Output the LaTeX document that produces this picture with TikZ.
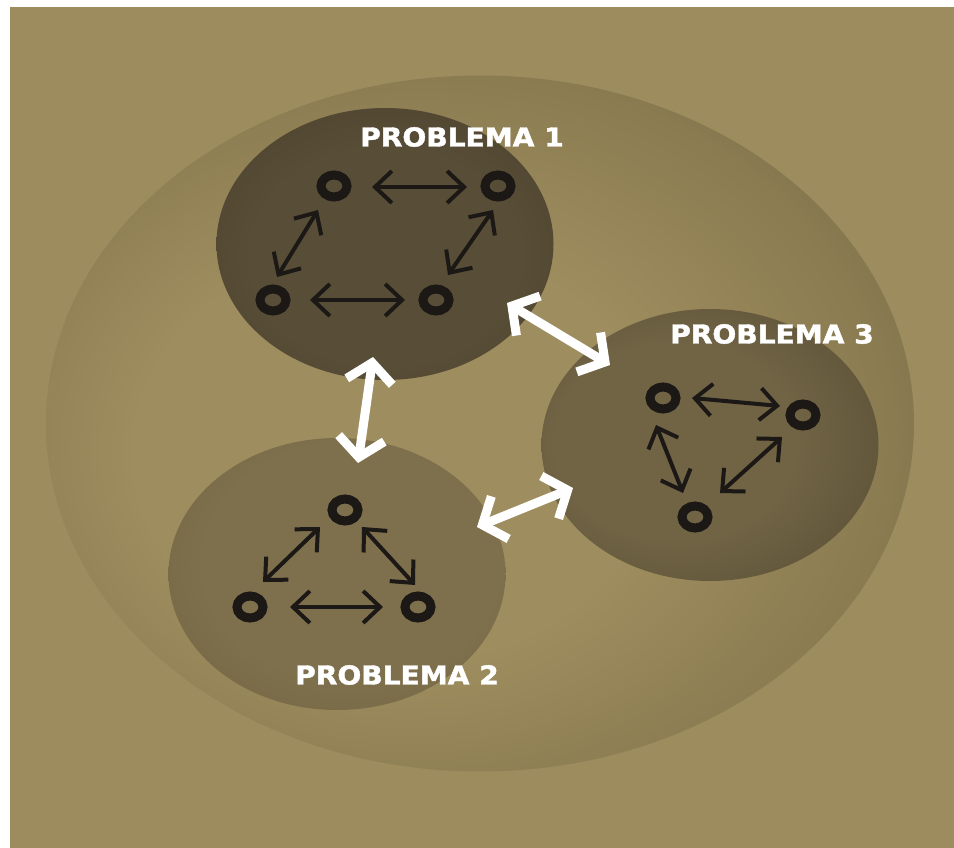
\documentclass[tikz,border=0pt]{standalone}
\usepackage{fontspec}
\newfontfamily\labelfont{DejaVu Sans Bold}[FakeBold=1.6]
\usetikzlibrary{arrows.meta,calc,shapes.geometric}
\definecolor{bgtan}{HTML}{9D8C5E}
\definecolor{glowin}{HTML}{9E8D5E}
\definecolor{glowmid}{HTML}{8A7B51}
\definecolor{glowout}{HTML}{6E6241}
\definecolor{ponein}{HTML}{584D36}
\definecolor{poneout}{HTML}{4B422F}
\definecolor{pthreein}{HTML}{716445}
\definecolor{pthreeout}{HTML}{594E35}
\definecolor{ptwoin}{HTML}{7E704D}
\definecolor{ptwoout}{HTML}{736541}
\definecolor{ink}{HTML}{1B1815}
\pgfdeclareradialshading{outerglow}{\pgfpoint{-7bp}{-3bp}}{color(0bp)=(glowin); color(15bp)=(glowin); color(27bp)=(glowmid); color(36bp)=(glowout); color(50bp)=(glowout)}
\pgfdeclareradialshading{poneshade}{\pgfpoint{0bp}{-4bp}}{color(0bp)=(ponein); color(20bp)=(ponein); color(36bp)=(poneout); color(50bp)=(poneout)}
\pgfdeclareradialshading{pthreeshade}{\pgfpoint{-8bp}{1bp}}{color(0bp)=(pthreein); color(18bp)=(pthreein); color(36bp)=(pthreeout); color(50bp)=(pthreeout)}
\pgfdeclareradialshading{ptwoshade}{\pgfpoint{4bp}{4bp}}{color(0bp)=(ptwoin); color(22bp)=(ptwoin); color(36bp)=(ptwoout); color(50bp)=(ptwoout)}
\tikzset{
  blob/.style={ellipse, inner sep=0pt, minimum width=337pt, minimum height=272pt},
  ring/.style={ellipse, draw=ink, line width=9pt, inner sep=0pt, minimum width=26pt, minimum height=22pt},
  barrow/.style={draw=ink, line width=4pt, {Straight Barb[length=17pt,width=32pt]}-{Straight Barb[length=17pt,width=32pt]}},
  warrow/.style={draw=white, line width=9pt, {Straight Barb[length=19pt,width=46pt]}-{Straight Barb[length=19pt,width=46pt]}},
  plabel/.style={text=white, font=\labelfont\fontsize{26pt}{30pt}\selectfont, inner sep=0pt}
}
\begin{document}
\begin{tikzpicture}[x=1pt,y=-1pt]
\useasboundingbox (0,0) rectangle (954,848);
\fill[white] (0,0) rectangle (954,848);
\fill[bgtan] (10,7) rectangle (954,848);
% outer ellipse
\shade[shading=outerglow] (480,423.5) ellipse [x radius=434, y radius=348];
% problem areas
\node[blob, shading=poneshade] (p1) at (385,244) {};
\node[blob, shading=pthreeshade] (p3) at (710,445) {};
\node[blob, shading=ptwoshade] (p2) at (337,574) {};
% labels
\node[plabel] (l1) at (462,137) {\scalebox{1.08}[1]{PROBLEMA 1}};
\node[plabel] (l3) at (772,334) {\scalebox{1.08}[1]{PROBLEMA 3}};
\node[plabel] (l2) at (397,675) {\scalebox{1.08}[1]{PROBLEMA 2}};
% problem 1 nodes
\node[ring] (a1) at (334,186) {};
\node[ring] (a2) at (498,186) {};
\node[ring] (a3) at (273,300) {};
\node[ring] (a4) at (436,300) {};
\draw[barrow] ($(a1)+(38,1)$) -- ($(a2)+(-31,1)$);
\draw[barrow] ($(a3)+(37,0)$) -- ($(a4)+(-31,0)$);
\draw[barrow] ($(a1)+(-16,24)$) -- ($(a3)+(4,-23)$);
\draw[barrow] ($(a2)+(-5,24)$) -- ($(a4)+(12,-25)$);
% problem 3 nodes
\node[ring] (c1) at (663,398) {};
\node[ring] (c2) at (803,415) {};
\node[ring] (c3) at (695,517) {};
\draw[barrow] ($(c1)+(29,0)$) -- ($(c2)+(-23,-9)$);
\draw[barrow] ($(c1)+(-7,27)$) -- ($(c3)+(-12,-24)$);
\draw[barrow] ($(c2)+(-21,22)$) -- ($(c3)+(25,-24)$);
% problem 2 nodes
\node[ring] (b1) at (345,510) {};
\node[ring] (b2) at (250,607) {};
\node[ring] (b3) at (418,607) {};
\draw[barrow] ($(b1)+(-25,17)$) -- ($(b2)+(13,-25)$);
\draw[barrow] ($(b1)+(17,17)$) -- ($(b3)+(-3,-22)$);
\draw[barrow] ($(b2)+(40,0)$) -- ($(b3)+(-35,0)$);
% white connectors between problems
\draw[warrow] ($(p1)+(-12,113)$) -- ($(p2)+(21,-111)$);
\draw[warrow] ($(p1)+(122,59)$) -- ($(p3)+(-100,-80)$);
\draw[warrow] ($(p2)+(140,-47)$) -- ($(p3)+(-137,43)$);
\end{tikzpicture}
\end{document}
